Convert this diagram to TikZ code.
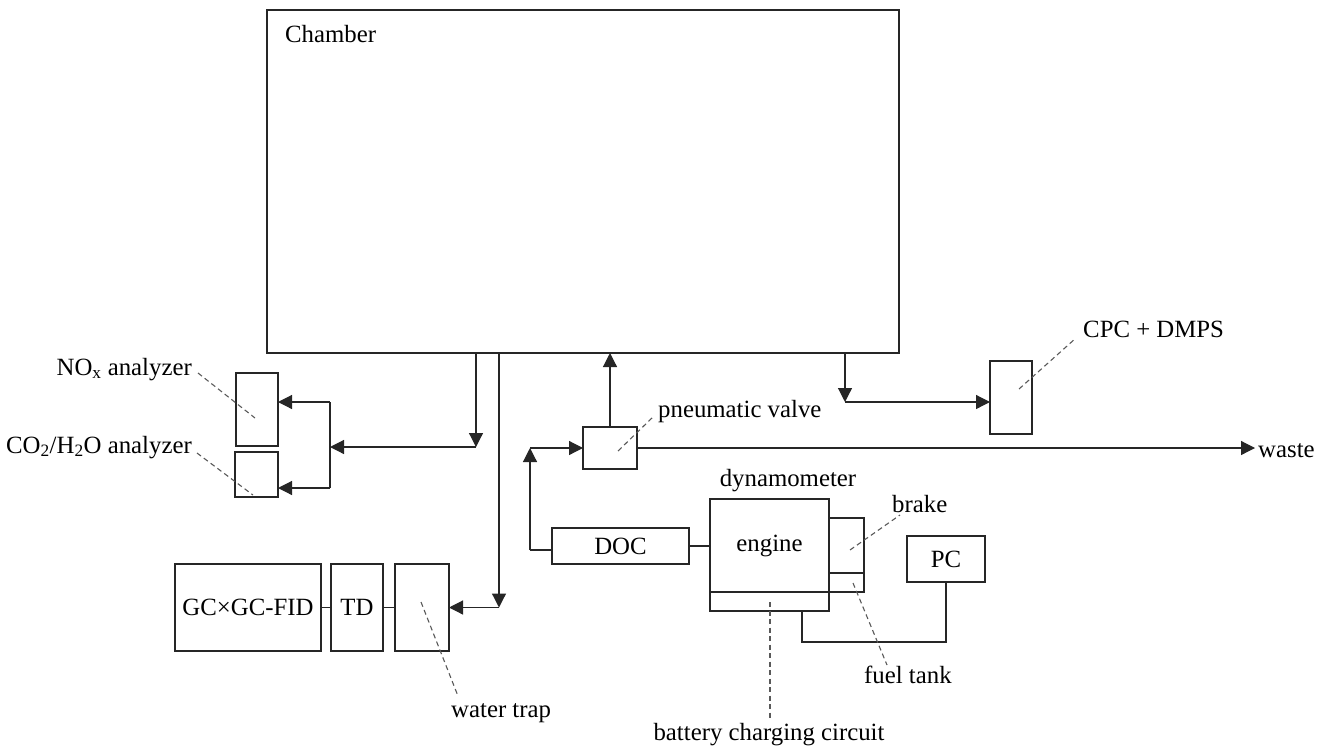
\documentclass[tikz,border=0pt]{standalone}
\usepackage{fontspec}
\setmainfont{Liberation Serif}
\usetikzlibrary{arrows.meta}
\begin{document}
\begin{tikzpicture}[x=1pt,y=-1pt,
  every node/.style={font=\fontsize{24.8}{28}\selectfont},
  box/.style={draw=black!85,line width=1.2pt,inner sep=0pt,outer sep=0pt,rectangle},
  conn/.style={draw=black!85,line width=1.2pt},
  arr/.style={conn,-{Triangle[length=14pt,width=14pt]}},
  lead/.style={draw=black!65,line width=1.1pt,dash pattern=on 5pt off 3.5pt},
  lbl/.style={inner sep=0pt}]
\useasboundingbox (0,0) rectangle (1332,747);
% boxes
\node[box,minimum width=632pt,minimum height=343pt] (chamber) at (583,181.5) {};
\node[lbl,anchor=base west] (tchamber) at (285,42) {Chamber};
\node[box,minimum width=42pt,minimum height=73pt] (nox) at (257,409.5) {};
\node[box,minimum width=43pt,minimum height=45pt] (co2) at (256.5,474.5) {};
\node[box,minimum width=146pt,minimum height=87pt] (gc) at (248,607.5) {GC×GC-FID};
\node[box,minimum width=52pt,minimum height=87pt] (td) at (357,607.5) {TD};
\node[box,minimum width=54pt,minimum height=87pt] (wt) at (422,607.5) {};
\node[box,minimum width=54pt,minimum height=42pt] (valve) at (610,448) {};
\node[box,minimum width=42pt,minimum height=73pt] (cpc) at (1011,397.5) {};
\node[box,minimum width=137pt,minimum height=36pt] (doc) at (620.5,546) {DOC};
\node[box,minimum width=119pt,minimum height=93pt] (engine) at (769.5,545.5) {engine};
\node[box,minimum width=119pt,minimum height=19pt] (battery) at (769.5,601.5) {};
\node[box,minimum width=35pt,minimum height=55pt] (brake) at (846.5,545.5) {};
\node[box,minimum width=35pt,minimum height=19pt] (fuel) at (846.5,582.5) {};
\node[box,minimum width=78pt,minimum height=46pt] (pc) at (946,559) {PC};
% labels
\node[lbl,anchor=base east] (tnox) at (192,375) {NO\textsubscript{x} analyzer};
\node[lbl,anchor=base east] (tco2) at (192,453) {CO\textsubscript{2}/H\textsubscript{2}O analyzer};
\node[lbl,anchor=base west] (tvalve) at (658,417) {pneumatic valve};
\node[lbl,anchor=base west] (tcpc) at (1083,337) {CPC + DMPS};
\node[lbl,anchor=base west] (twaste) at (1258,457) {waste};
\node[lbl,anchor=base] (tdyn) at (788,486) {dynamometer};
\node[lbl,anchor=base west] (tbrake) at (892,512) {brake};
\node[lbl,anchor=base west] (tfuel) at (864,683) {fuel tank};
\node[lbl,anchor=base] (tbatt) at (769,740) {battery charging circuit};
\node[lbl,anchor=base west] (twt) at (451,717) {water trap};
% coordinates
\coordinate (j1) at (476,447);
\coordinate (j2) at (330,447);
\coordinate (n1) at (330,402);
\coordinate (c1) at (330,488);
\coordinate (j3) at (499,607.5);
\coordinate (k1) at (530,550);
\coordinate (k2) at (530,448);
\coordinate (w) at (1255,448);
\coordinate (r1) at (845,402);
\coordinate (p1) at (802,642);
% connectors
\draw[arr] (chamber.south -| j1) -- (j1);
\draw[arr] (j1) -- (j2);
\draw[conn] (n1) -- (c1);
\draw[arr] (n1) -- (n1 -| nox.east);
\draw[arr] (c1) -- (c1 -| co2.east);
\draw[arr] (chamber.south -| j3) -- (j3);
\draw[arr] (j3) -- (wt.east);
\draw[conn] (wt.west) -- (td.east);
\draw[conn] (td.west) -- (gc.east);
\draw[arr] (valve.north) -- (valve.north |- chamber.south);
\draw[conn] (doc.west |- k1) -- (k1);
\draw[arr] (k1) -- (k2);
\draw[arr] (k2) -- (valve.west);
\draw[conn] (doc.east) -- (doc.east -| engine.west);
\draw[arr] (valve.east) -- (w);
\draw[arr] (chamber.south -| r1) -- (r1);
\draw[arr] (r1) -- (r1 -| cpc.west);
\draw[conn] (pc.south) |- (p1) -- (p1 |- battery.south);
% leaders
\draw[lead] (198,373) -- (255,418);
\draw[lead] (197,453) -- (253,495);
\draw[lead] (421,602) -- (458,696);
\draw[lead] (618,451) -- (653,417);
\draw[lead] (1019,389) -- (1076,338);
\draw[lead] (850,550) -- (900,515);
\draw[lead] (853,583) -- (887,665);
\draw[lead] (770,602) -- (770,718);
\end{tikzpicture}
\end{document}
